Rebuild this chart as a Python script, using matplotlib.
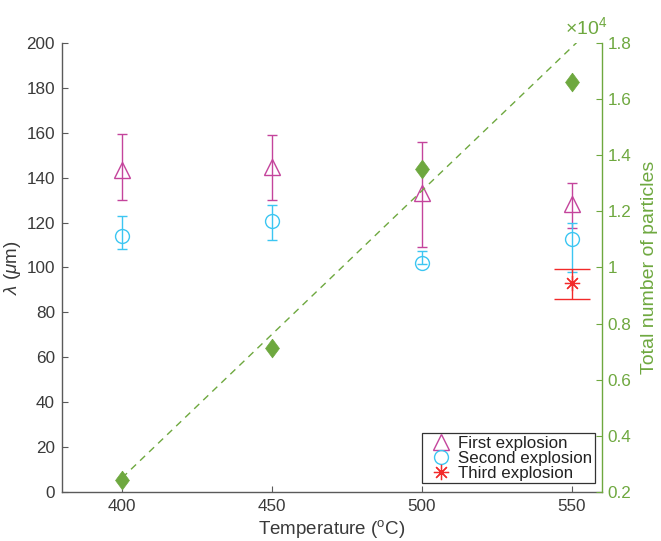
import matplotlib
matplotlib.use("Agg")
import matplotlib.pyplot as plt
from matplotlib.lines import Line2D
import numpy as np

plt.rcParams['font.family'] = ['Liberation Sans', 'DejaVu Sans']
plt.rcParams['mathtext.fontset'] = 'custom'
plt.rcParams['mathtext.rm'] = 'Liberation Sans'
plt.rcParams['mathtext.it'] = 'Liberation Sans:italic'
plt.rcParams['mathtext.bf'] = 'Liberation Sans:bold'

# ---- data ----
temps = [400, 450, 500, 550]

first_y = [143.5, 144.8, 133.0, 128.2]
first_lo = [130.1, 130.1, 109.3, 117.5]
first_hi = [159.6, 158.9, 155.8, 137.5]

second_y = [114.0, 120.6, 102.2, 112.6]
second_lo = [108.1, 112.2, 101.5, 98.1]
second_hi = [122.9, 128.0, 107.5, 120.0]

third_x = [550]
third_y = [93.2]
third_lo = [86.0]
third_hi = [99.3]

particles = [0.244, 0.713, 1.352, 1.660]   # x 10^4
fit_x = [400, 560]
fit_y = [0.25, 1.888]

left_ticks = list(range(0, 201, 20))
right_ticks = [0.2, 0.4, 0.6, 0.8, 1.0, 1.2, 1.4, 1.6, 1.8]
right_labels = ['0.2', '0.4', '0.6', '0.8', '1', '1.2', '1.4', '1.6', '1.8']
x_ticks = [400, 450, 500, 550]

# ---- style ----
c_first = '#c4449c'
c_second = '#3cc6f2'
c_third = '#f22a2a'
c_green = '#6ea83f'
c_text = '#3a3a3a'
c_axis = '#5a5a5a'

fig = plt.figure(figsize=(6.61, 5.41), dpi=100)
ax = fig.add_axes([0.0938, 0.0906, 0.8169, 0.8299])
ax2 = ax.twinx()

def yerr(y, lo, hi):
    y = np.asarray(y); return [y - np.asarray(lo), np.asarray(hi) - y]

ax.errorbar(temps, first_y, yerr=yerr(first_y, first_lo, first_hi), fmt='^',
            ms=11, mfc='none', mec=c_first, mew=1.0, ecolor=c_first,
            elinewidth=1.0, capsize=3.8, capthick=1.0)
ax.errorbar(temps, second_y, yerr=yerr(second_y, second_lo, second_hi), fmt='o',
            ms=10, mfc='none', mec=c_second, mew=1.0, ecolor=c_second,
            elinewidth=1.0, capsize=3.8, capthick=1.0)
ax.errorbar(third_x, third_y, yerr=yerr(third_y, third_lo, third_hi), fmt='none',
            ecolor=c_third, elinewidth=1.0, capsize=12.8, capthick=1.0)
ax.plot(third_x, third_y, ls='none', marker=(8, 2, 0), ms=11, mec=c_third, mew=0.9)

ax2.plot(fit_x, fit_y, ls=(0, (5, 4)), color=c_green, lw=1.0)
diamond = [(0, 1), (0.74, 0), (0, -1), (-0.74, 0), (0, 1)]
ax2.plot(temps, particles, ls='none', marker=diamond, ms=13.5, color=c_green,
         mec=c_green, mew=0.5)

ax.set_xlim(380, 560)
ax.set_ylim(0, 200)
ax2.set_ylim(0.2, 1.8)

ax.set_xticks(x_ticks)
ax.set_yticks(left_ticks)
ax2.set_yticks(right_ticks)
ax2.set_yticklabels(right_labels)

for a in (ax, ax2):
    a.spines['top'].set_visible(False)
ax.spines['right'].set_visible(False)
ax2.spines['left'].set_visible(False)
ax2.spines['bottom'].set_visible(False)
ax.spines['left'].set_color(c_axis)
ax.spines['bottom'].set_color(c_axis)
ax2.spines['right'].set_color(c_green)
for s in ('left', 'bottom'):
    ax.spines[s].set_linewidth(1.0)
ax2.spines['right'].set_linewidth(1.0)

ax.tick_params(axis='both', direction='in', length=4, width=0.8, color=c_axis,
               labelcolor=c_text, labelsize=12.3, pad=5)
ax2.tick_params(axis='y', direction='in', length=4, width=0.8, color=c_green,
                labelcolor=c_green, labelsize=12.3, pad=4)

ax.set_xlabel(r'Temperature ($^{\rm o}$C)', fontsize=13.5, color=c_text, labelpad=3)
ax.set_ylabel(r'$\lambda$ ($\mu$m)', fontsize=13.5, color=c_text)
ax.yaxis.set_label_coords(-0.072, 0.5)
ax2.set_ylabel('Total number of particles', fontsize=14, color=c_green, labelpad=7)

ax2.text(0.932, 1.010, r'$\times 10^{4}$', transform=ax2.transAxes,
         fontsize=14, color=c_green, ha='left', va='bottom')

handles = [
    Line2D([], [], ls='none', marker='^', ms=11, mfc='none', mec=c_first, mew=1.0),
    Line2D([], [], ls='none', marker='o', ms=10, mfc='none', mec=c_second, mew=1.0),
    Line2D([], [], ls='none', marker=(8, 2, 0), ms=11, mec=c_third, mew=0.9),
]
leg = ax2.legend(handles, ['First explosion', 'Second explosion', 'Third explosion'],
                 loc='lower right', bbox_to_anchor=(0.987, 0.019), borderaxespad=0,
                 fontsize=12.2, frameon=True, fancybox=False, framealpha=1,
                 edgecolor='#333333', borderpad=0.15, handlelength=2.0,
                 handletextpad=0.0, labelspacing=0.0)
leg.get_frame().set_linewidth(0.9)
for t in leg.get_texts():
    t.set_color('#222222')

fig.savefig('out.png', dpi=100)
